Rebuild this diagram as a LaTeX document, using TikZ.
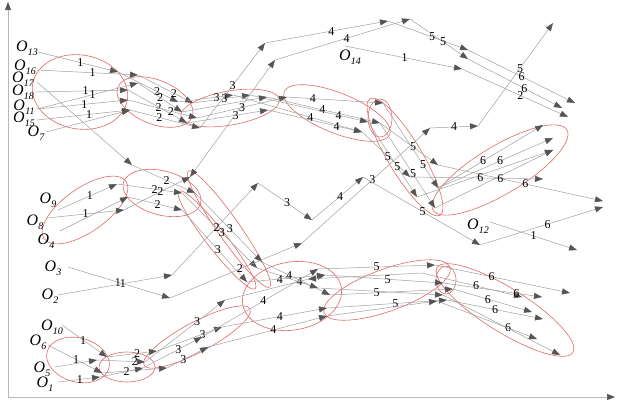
\documentclass[tikz,border=0pt]{standalone}
\usepackage{fontspec}
\setmainfont{Liberation Serif}
\usetikzlibrary{arrows.meta}
\definecolor{ln}{HTML}{A0A0A0}
\definecolor{tipc}{HTML}{555555}
\definecolor{ellc}{HTML}{E06868}
\definecolor{axc}{HTML}{B8B8B8}
\newcommand{\Olab}[1]{\textit{O}\kern0.3pt\raisebox{-0.5ex}{\fontsize{10}{10}\selectfont\itshape #1}}
\begin{document}
\begin{tikzpicture}[x=1pt,y=-1pt,
 arr/.style={draw=ln, line width=0.5pt, -{Triangle[length=8pt,width=6pt,color=tipc]}},
 barr/.style={draw=ln, line width=0.5pt, {Triangle[length=8pt,width=6pt,color=tipc]}-{Triangle[length=8pt,width=6pt,color=tipc]}},
 lab/.style={font=\fontsize{12}{12}\selectfont, inner sep=0.5pt},
 olab/.style={font=\fontsize{16}{16}\selectfont, inner sep=0pt},
 elps/.style={draw=ellc, line width=0.6pt},
 axis/.style={draw=axc, line width=0.7pt, -{Triangle[length=8pt,width=6pt,color=tipc]}}]
\useasboundingbox (0,0) rectangle (620,410);

% axes
\coordinate (org) at (8,397);
\coordinate (ytop) at (8,2);
\coordinate (xend) at (615,397);
\draw[axis] (org) -- (ytop);
\draw[axis] (org) -- (xend);

% ellipses
\foreach \cx/\cy/\ra/\rb/\ang in {
 80/92/48pt/37pt/-10, 155/102/40pt/22pt/-22, 230/108/50pt/17pt/10,
 337/113/57pt/20pt/-22, 380/118/12pt/19pt/0, 405/157/68pt/17pt/-59,
 500/170/78pt/24pt/31, 85/210/50pt/22pt/35, 162/193/40pt/22pt/-15,
 229/229/71pt/11pt/-55, 217/240/62pt/10pt/-52,
 78/360/32pt/22pt/-15, 127/367/28pt/15pt/0, 197/337/60pt/15pt/28,
 292/296/50pt/34pt/10, 387/290/67pt/21pt/20, 446/280/10pt/14pt/0,
 505/310/80pt/22pt/-32}
 \draw[elps, rotate around={\ang:(\cx,\cy)}] (\cx,\cy) ellipse [x radius=\ra, y radius=\rb];

% O labels
\node[olab] (O13) at (27,48) {\Olab{13}};
\node[olab] (O16) at (25,67) {\Olab{16}};
\node[olab] (O17) at (23,79) {\Olab{17}};
\node[olab] (O18) at (23,92) {\Olab{18}};
\node[olab] (O11) at (24,107) {\Olab{11}};
\node[olab] (O15) at (24,119) {\Olab{15}};
\node[olab] (O7) at (36,133) {\Olab{7}};
\node[olab] (O14) at (350,57) {\Olab{14}};
\node[olab] (O9) at (48,200) {\Olab{9}};
\node[olab] (O8) at (35,222) {\Olab{8}};
\node[olab] (O4) at (46,241) {\Olab{4}};
\node[olab] (O3) at (53,268) {\Olab{3}};
\node[olab] (O2) at (50,296) {\Olab{2}};
\node[olab] (O12) at (478,226) {\Olab{12}};
\node[olab] (O10) at (52,327) {\Olab{10}};
\node[olab] (O6) at (38,342) {\Olab{6}};
\node[olab] (O5) at (42,369) {\Olab{5}};
\node[olab] (O1) at (45,384) {\Olab{1}};

% points
\foreach \n/\x/\y in {
 s13/38/52, s16/37/70, s17/37/82, s18/36/92, s11/37/109, s15/37/120, s7/46/132,
 t1a/118/72, t1b/138/75, t1c/138/83, t1d/128/90, t1e/128/100, t1f/130/110, x17/132/165,
 t2a/178/102, t2b/193/103, t2c/182/112, t2d/187/123, t2e/197/118, t2f/200/128,
 t3a/233/95, t3b/250/95, t3c/267/97, t3d/268/110, t3e/287/97, t3f/265/43, t3g/275/60,
 t4a/388/21, t4b/410/19, t4c/368/122, t4d/380/123, t4e/383/103, t4f/362/132,
 t5a/468/50, t5b/468/59, t5c/410/177, t5d/417/197, t5e/438/165, t5f/438/188, t5g/435/208,
 t6a/575/103, t6b/562/108, t6c/543/125, t6d/553/138, t6e/553/150, t6f/543/179, t6g/603/201,
 o14s/345/46, o14t/462/69, o14u/568/117,
 s9/58/210, s8/47/218, s4/60/231,
 m1a/117/184, m1b/128/197, m1c/124/210, m2a/182/193, m2b/195/193, m2c/182/210, m2d/190/177,
 n3a/262/262, n3b/257/268, n3c/247/282,
 s3/68/267, s2/58/295, c1a/172/275, c1b/170/298, c2a/258/183, c2b/302/243,
 c3a/312/220, c3b/430/128, c4a/363/177, c4b/478/126, c5a/480/245, c5b/553/23, c6a/603/207,
 s12/490/222, o12t/577/250,
 s10/62/325, s6/48/345, s5/55/367, s1/58/382,
 d1a/107/357, d1b/97/360, d1c/102/373, d1d/100/377,
 d2a/157/351, d2b/145/362, d2c/167/368, d2d/143/368,
 d3a/225/300, d3b/222/327, d3c/208/347, d3d/202/337,
 f4a/318/269, f4b/325/275, f4c/330/295, f4d/318/288, f4e/327/308, f4f/327/316, f4g/308/279,
 g5a/435/265, g5b/422/273, g5c/443/283, g5d/453/289, g5e/437/301, g5f/447/300, g5g/443/295,
 h6a/522/297, h6b/542/297, h6c/570/293, h6d/532/312, h6e/543/319, h6f/537/339, h6g/560/355}
 \coordinate (\n) at (\x,\y);

% labelled connectors
\foreach \a/\b/\l/\p in {
 s13/t1a/1/0.53, s16/t1b/1/0.55, s18/t1d/1/0.54, s11/t1c/1/0.55, s11/t1e/1/0.52, s15/t1f/1/0.56,
 t1a/t2a/2/0.65, t1b/t2b/2/0.65, t1c/t2c/2/0.5, t1d/t2d/2/0.52, t1e/t2e/2/0.62, t1f/t2f/2/0.42,
 t2a/t3a/3/0.7, t2b/t3b/3/0.55, t2d/t3d/3/0.6, t2e/t3e/3/0.5, t2f/t3f/3/0.5,
 t3f/t4a/4/0.54, t3g/t4b/4/0.53, t3e/t4e/4/0.27, t3c/t4d/4/0.49, t3b/t4c/4/0.75, t3a/t4f/4/0.6, t3d/t4f/4/0.73,
 t4a/t5a/5/0.55, t4b/t5b/5/0.57, t4f/t5c/5/0.54, t4c/t5d/5/0.6, t4d/t5e/5/0.57, t4e/t5f/5/0.73, t4d/t5g/5/0.6,
 t5a/t6a/6/0.5, t5b/t6b/6/0.6, o14s/o14t/1/0.51, o14t/o14u/2/0.55,
 t5f/t6c/6/0.43, t5f/t6d/6/0.54, t5e/t6g/6/0.53,
 s9/m1a/1/0.54, s8/m1c/1/0.5, x17/m2b/2/0.55, m1a/m2a/2/0.58, m1b/m2c/2/0.55, m1c/m2d/2/0.55,
 m2b/n3a/3/0.52, m2a/n3b/3/0.53, m2c/n3c/3/0.55,
 s3/c1b/1/0.49, s2/c1a/1/0.57, c1a/c2a/2/0.52, c1b/c2b/2/0.53, c2a/c3a/3/0.54, c2b/c3b/3/0.55,
 c3a/c4a/4/0.55, c3b/c4b/4/0.5, c4a/c5a/5/0.51, c4b/c5b/5/0.56, c5a/c6a/6/0.55, s12/o12t/1/0.5,
 s10/d1a/1/0.47, s6/d1c/1/0.52, s1/d1d/1/0.52,
 d1a/d2a/2/0.6, d1b/d2b/2/0.79, d1c/d2c/2/0.38,
 d2a/d3b/3/0.7, d2b/d3a/3/0.65, d2d/d3d/3/0.6, d2c/d3c/3/0.4,
 n3a/f4c/4/0.4, n3b/f4d/4/0.7, n3c/f4b/4/0.42, d3d/f4a/4/0.53, d3b/f4e/4/0.55, d3c/f4f/4/0.55,
 f4a/g5a/5/0.5, f4b/g5c/5/0.53, f4c/g5d/5/0.38, f4e/g5f/5/0.57,
 g5a/h6c/6/0.42, g5b/h6a/6/0.54, g5c/h6b/6/0.74, g5d/h6d/6/0.44, g5f/h6e/6/0.5, g5e/h6f/6/0.71}
 \draw[arr] (\a) -- node[lab,pos=\p]{\l} (\b);

% unlabelled connectors
\foreach \a/\b in {s17/x17, s7/t1f, t2c/t3c, t5g/t6e, t5d/t6e, s4/m1b, s5/d1b, d1d/d2d,
 d3a/f4b, f4f/g5e, g5b/f4g, f4d/g5g, g5g/h6g}
 \draw[arr] (\a) -- (\b);

\draw[arr] (t5c) -- node[lab,pos=0.53]{6} node[lab,pos=0.68]{6} (t6f);
\draw[barr] (m2d) -- (t3g);
\end{tikzpicture}
\end{document}
